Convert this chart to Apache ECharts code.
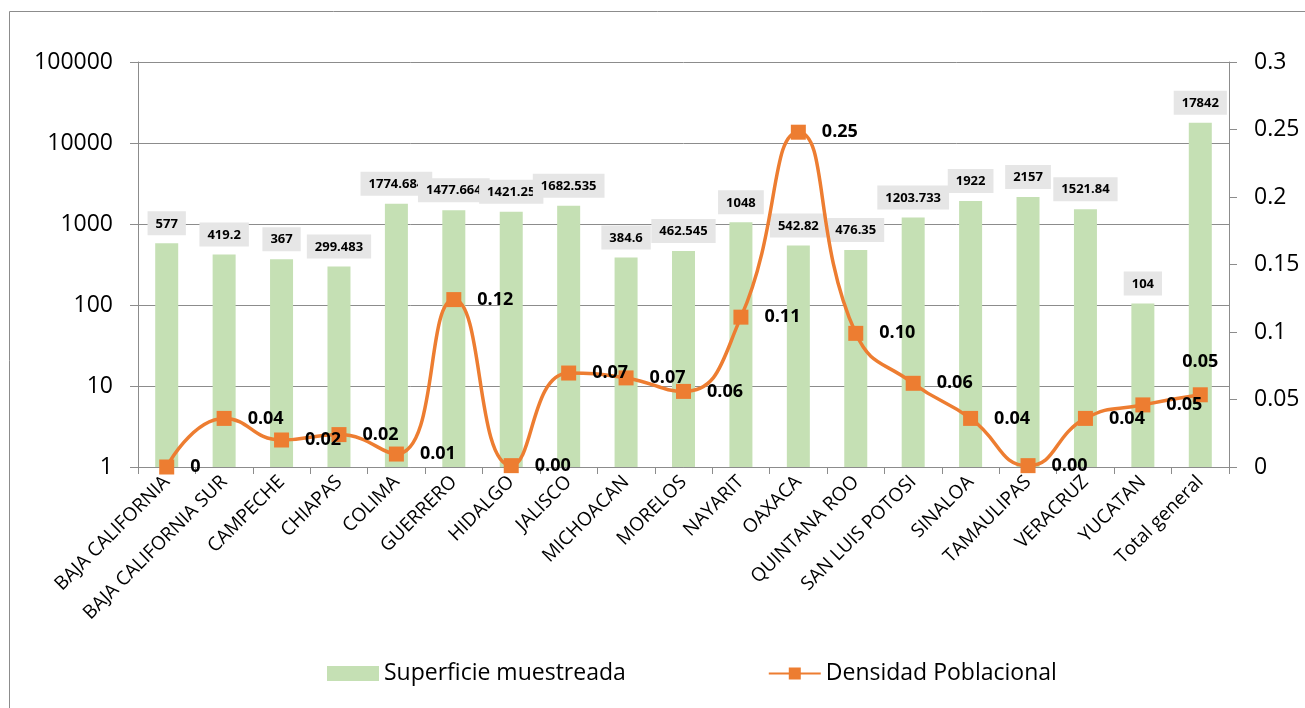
<!DOCTYPE html>
<html>
<head>
<meta charset="utf-8">
<script src="https://cdn.jsdelivr.net/npm/echarts@6/dist/echarts.min.js"></script>
<style>
html,body{margin:0;padding:0;background:#fff;}
#chart{width:1305px;height:708px;}
</style>
</head>
<body>
<div id="chart"></div>
<script>
const categories = ['BAJA CALIFORNIA','BAJA CALIFORNIA SUR','CAMPECHE','CHIAPAS','COLIMA','GUERRERO','HIDALGO','JALISCO','MICHOACAN','MORELOS','NAYARIT','OAXACA','QUINTANA ROO','SAN LUIS POTOSI','SINALOA','TAMAULIPAS','VERACRUZ','YUCATAN','Total general'];
const superficie = [577, 419.2, 367, 299.483, 1774.684, 1477.664, 1421.25, 1682.535, 384.6, 462.545, 1048, 542.82, 476.35, 1203.733, 1922, 2157, 1521.84, 104, 17842];
const densidad = [0, 0.036, 0.020, 0.024, 0.0096, 0.124, 0.001, 0.0696, 0.066, 0.056, 0.111, 0.248, 0.099, 0.062, 0.036, 0.001, 0.036, 0.046, 0.0535];
const densidadLabelPos = ['right','right','right','right','right','right','right','right','right','right','right','right','right','right','right','right','right','right','top'];
const leftTicks = [1, 10, 100, 1000, 10000, 100000];

const FONT = '"Open Sans", "Noto Sans", sans-serif';
const chart = echarts.init(document.getElementById('chart'), null, {renderer: 'canvas'});

const option = {
  backgroundColor: '#ffffff',
  animation: false,
  textStyle: {fontFamily: FONT},
  graphic: [{
    type: 'rect', z: -10,
    shape: {x: 9.5, y: 11.5, width: 1320, height: 720},
    style: {fill: 'none', stroke: '#8c8c8c', lineWidth: 1}
  }],
  grid: {left: 138, right: 76, top: 62, bottom: 241, containLabel: false},
  legend: {
    left: 322, top: 657,
    itemWidth: 52, itemHeight: 15, itemGap: 142,
    textStyle: {fontFamily: FONT, fontSize: 23, color: '#000'},
    data: [
      {name: 'Superficie muestreada', icon: 'rect'},
      {name: 'Densidad Poblacional'}
    ]
  },
  xAxis: {
    type: 'category',
    data: categories,
    boundaryGap: true,
    axisLine: {show: true, lineStyle: {color: '#8c8c8c', width: 1}},
    axisTick: {show: true, length: 7, alignWithLabel: false, lineStyle: {color: '#8c8c8c'}},
    axisLabel: {interval: 0, rotate: 45, margin: 12, fontFamily: FONT, fontSize: 19, color: '#000'}
  },
  yAxis: [{
    type: 'log', logBase: 10, min: 1, max: 100000,
    axisLine: {show: true, lineStyle: {color: '#8c8c8c'}},
    axisTick: {show: true, length: 8, inside: false, lineStyle: {color: '#8c8c8c'}},
    splitLine: {show: true, lineStyle: {color: '#8c8c8c', width: 1}},
    axisLabel: {margin: 25, fontFamily: FONT, fontSize: 23, color: '#000',
      formatter: v => leftTicks.includes(Math.round(v)) ? String(Math.round(v)) : ''}
  }, {
    type: 'value', min: 0, max: 0.3, interval: 0.05, position: 'right',
    axisLine: {show: true, lineStyle: {color: '#8c8c8c'}},
    axisTick: {show: true, length: 8, lineStyle: {color: '#8c8c8c'}},
    splitLine: {show: false},
    axisLabel: {margin: 25, fontFamily: FONT, fontSize: 23, color: '#000',
      formatter: v => String(Math.round(v * 100) / 100)}
  }],
  series: [{
    name: 'Superficie muestreada',
    type: 'bar',
    yAxisIndex: 0,
    data: superficie,
    barWidth: 23,
    itemStyle: {color: '#c5e0b4'},
    label: {
      show: true, position: 'top', distance: 8,
      fontFamily: FONT, fontSize: 13, fontWeight: 'bold', color: '#000',
      backgroundColor: '#e6e6e6', padding: [6, 8, 5, 8],
      formatter: p => String(p.value)
    },
    z: 2
  }, {
    name: 'Densidad Poblacional',
    type: 'line',
    yAxisIndex: 1,
    data: densidad.map((v, i) => ({value: v, label: {position: densidadLabelPos[i]}})),
    smooth: 0.5,
    symbol: 'rect',
    symbolSize: 15,
    lineStyle: {color: '#ed7d31', width: 3.5},
    itemStyle: {color: '#ed7d31'},
    label: {
      show: true, distance: 16,
      fontFamily: FONT, fontSize: 18, fontWeight: 'bold', color: '#000',
      formatter: p => p.value === 0 ? '0' : p.value.toFixed(2)
    },
    z: 5
  }]
};
chart.setOption(option);
</script>
</body>
</html>
